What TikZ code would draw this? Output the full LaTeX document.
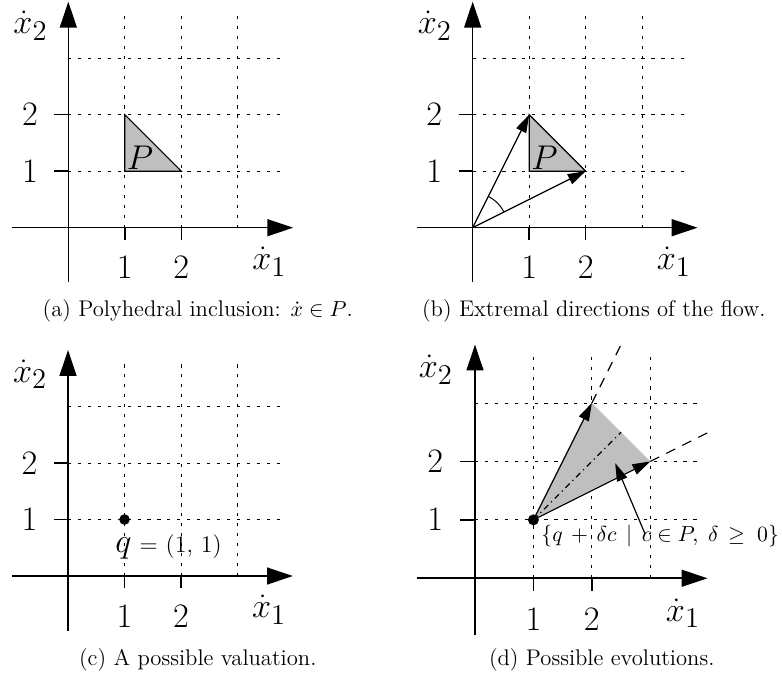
\documentclass[tikz,border=0pt]{standalone}
\usepackage{amsmath,amssymb}
\usetikzlibrary{arrows.meta,calc}

\tikzset{
    axisStyle/.style={line width=0.8pt, -{Triangle[length=13pt,width=8.5pt]}},
    gridStyle/.style={line width=0.5pt, dash pattern=on 1.6pt off 3.4pt},
    tickStyle/.style={line width=0.8pt},
    vecStyle/.style={line width=0.6pt, -{Triangle[length=9pt,width=5.5pt]}},
    polyFill/.style={fill=gray!50, draw=black, line width=0.6pt},
    bigLabel/.style={font=\fontsize{17.3}{20}\selectfont, inner sep=0pt},
    axisLabel/.style={font=\fontsize{19}{22}\selectfont, inner sep=0pt},
    capStyle/.style={font=\fontsize{11.4}{14}\selectfont, inner sep=0pt},
    plane/.pic={
        % dotted grid
        \foreach \i in {1,2,3} {
            \draw[gridStyle] (\i,0) -- (\i,3.82);
            \draw[gridStyle] (0,\i) -- (3.8,\i);
        }
        % axes
        \draw[axisStyle] (-0.99,0) -- (3.98,0);
        \draw[axisStyle] (0,-0.97) -- (0,4.0);
        % ticks and numbers
        \foreach \i in {1,2} {
            \draw[tickStyle] (\i,0) -- (\i,-0.22);
            \draw[tickStyle] (0,\i) -- (-0.25,\i);
            \node[bigLabel] (xt\i) at (\i,-0.71) {$\i$};
            \node[bigLabel] (yt\i) at (-0.68,\i) {$\i$};
        }
        \node[axisLabel] (xlab) at (3.56,-0.6) {$\dot{x}_1$};
        \node[axisLabel] (ylab) at (-0.67,3.57) {$\dot{x}_2$};
    }
}

\begin{document}
\begin{tikzpicture}
    \useasboundingbox (0,0) rectangle (13.841,12.018);

    % (a) Polyhedral inclusion
    \pic (pa) at (1.209,7.988) {plane};
    \begin{scope}[shift={(1.209,7.988)}]
        \filldraw[polyFill] (1,1) -- (1,2) -- (2,1) -- cycle;
        \node[axisLabel] (aP) at (1.27,1.24) {$P$};
    \end{scope}
    \node[capStyle] (capa) at (3.50,6.52) {(a) Polyhedral inclusion: $\dot{x} \in P$.};

    % (b) Extremal directions
    \pic (pb) at (8.366,7.988) {plane};
    \begin{scope}[shift={(8.366,7.988)}]
        \coordinate (bO) at (0,0);
        \coordinate (bV1) at (1,2);
        \coordinate (bV2) at (2,1);
        \filldraw[polyFill] (1,1) -- (bV1) -- (bV2) -- cycle;
        \node[axisLabel] (bP) at (1.27,1.24) {$P$};
        \draw[vecStyle] (bO) -- (bV1);
        \draw[vecStyle] (bO) -- (bV2);
        \draw[line width=0.5pt] ($(bO)+(26.57:0.62)$) arc[start angle=26.57, end angle=63.43, radius=0.62];
    \end{scope}
    \node[capStyle] (capb) at (10.51,6.52) {(b) Extremal directions of the flow.};

    % (c) A possible valuation
    \pic (pc) at (1.204,1.823) {plane};
    \begin{scope}[shift={(1.204,1.823)}]
        \fill (1,1) circle (0.094);
        \node[axisLabel, anchor=base west] (cq) at (0.83,0.41)
            {$q$\fontsize{12.5}{14}\selectfont\ $=$ $(1,\,1)$};
    \end{scope}
    \node[capStyle] (capc) at (3.50,0.34) {(c) A possible valuation.};

    % (d) Possible evolutions
    \pic[scale=1.034] (pd) at (8.407,1.783) {plane};
    \begin{scope}[shift={(8.407,1.783)}, scale=1.034]
        \coordinate (dq) at (1,1);
        \coordinate (dV1) at (2,3);
        \coordinate (dV2) at (3,2);
        \fill[gray!50] (dq) -- (dV1) -- (dV2) -- cycle;
        \draw[vecStyle] (dq) -- (dV1);
        \draw[vecStyle] (dq) -- (dV2);
        \draw[line width=0.6pt, dash pattern=on 5pt off 4pt] (dV1) -- (2.5,4);
        \draw[line width=0.6pt, dash pattern=on 5pt off 4pt] (dV2) -- (4,2.5);
        \draw[line width=0.6pt, dash dot] (dq) -- (2.5,2.5);
        \fill (dq) circle (0.094);
        \node[font=\fontsize{11}{13}\selectfont, inner sep=0pt, anchor=east] (dset) at (5.21,0.73)
            {$\{q \,+\, \delta c \,\mid\, c \in P,\; \delta \,\geq\; 0\}$};
        \coordinate (dtail) at (2.91,0.76);
        \draw[vecStyle] (dtail) -- (2.40,1.97);
    \end{scope}
    \node[capStyle] (capd) at (10.65,0.34) {(d) Possible evolutions.};
\end{tikzpicture}
\end{document}
